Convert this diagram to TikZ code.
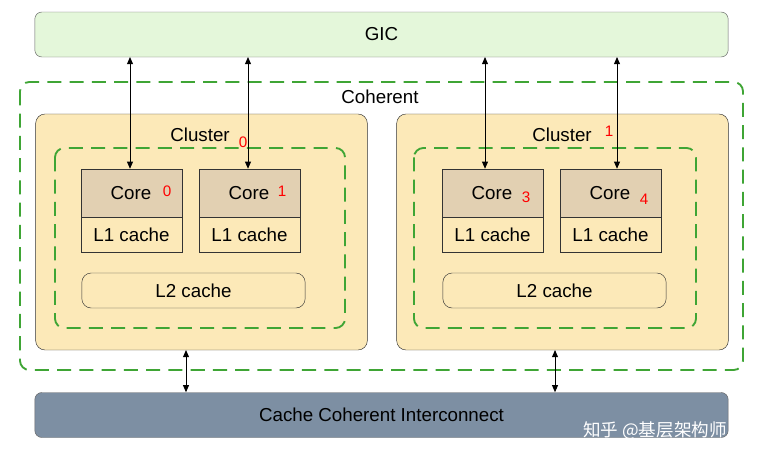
\documentclass[tikz,border=0pt]{standalone}
\usepackage{fontspec}
\setmainfont{Liberation Sans}
\newfontfamily\cjk{Noto Sans CJK SC}
\usetikzlibrary{arrows.meta,positioning}
\definecolor{gicgreen}{HTML}{E4F7DA}
\definecolor{clusterfill}{HTML}{FCE9B8}
\definecolor{corefill}{HTML}{E2D0B2}
\definecolor{dashgreen}{HTML}{3FA535}
\definecolor{busfill}{HTML}{7D8FA3}
\begin{document}
\begin{tikzpicture}[x=0.03cm,y=-0.03cm,font=\fontsize{16}{18}\selectfont]
	\tikzstyle{bar} = [rectangle, rounded corners=6pt, draw=black!60, minimum height=1.35cm, minimum width=20.8cm]
	\tikzstyle{cluster} = [rectangle, rounded corners=8pt, draw=black!80, fill=clusterfill, minimum width=9.95cm, minimum height=7.08cm]
	\tikzstyle{dashbox} = [rectangle, rounded corners=8pt, draw=dashgreen, line width=1.6pt, dash pattern=on 12pt off 7pt]
	\tikzstyle{core} = [rectangle, draw=black!80, fill=corefill, minimum width=3.03cm, minimum height=1.44cm, inner sep=0pt]
	\tikzstyle{lone} = [rectangle, draw=black!80, fill=clusterfill, minimum width=3.03cm, minimum height=1.05cm, inner sep=0pt]
	\tikzstyle{ltwo} = [rectangle, rounded corners=8pt, draw=black!80, fill=clusterfill, minimum width=6.7cm, minimum height=1.05cm]
	\tikzstyle{num} = [text=red, font=\fontsize{13}{15}\selectfont]
	\tikzstyle{arrow} = [thick, {Triangle[length=6pt,width=5pt]}-{Triangle[length=6pt,width=5pt]}]
	\useasboundingbox (0,0) rectangle (766,474);
	% top and bottom bars
	\node (gic) [bar, fill=gicgreen] at (381.5,34.5) {GIC};
	\node (bus) [bar, fill=busfill] at (381.5,415) {Cache Coherent Interconnect};
	% coherent domain
	\draw [dashbox] (20,82) rectangle (743,370);
	\node (coherent) at (380,97) {Coherent};
	% clusters
	\node (cluster0) [cluster] at (201.5,232) {};
	\node (cluster1) [cluster] at (562.5,232) {};
	\node (clabel0) at (200,135) {Cluster};
	\node [num] at (243,142) {0};
	\node (clabel1) at (562,135) {Cluster};
	\node [num] at (609,131) {1};
	\draw [dashbox] (55,148) rectangle (345,328);
	\draw [dashbox] (414,148) rectangle (696,328);
	% cores
	\node (core0) [core] at (131.5,193) {};
	\node (core1) [core] at (249.5,193) {};
	\node (core3) [core] at (492.5,193) {};
	\node (core4) [core] at (610.5,193) {};
	\node at (131,193) {Core};
	\node [num] at (167,191) {0};
	\node at (249,193) {Core};
	\node [num] at (282,191) {1};
	\node at (492,193) {Core};
	\node [num] at (526,197) {3};
	\node at (610,193) {Core};
	\node [num] at (644,199) {4};
	\node (lone0) [lone, below=0pt of core0] {L1 cache};
	\node (lone1) [lone, below=0pt of core1] {L1 cache};
	\node (lone3) [lone, below=0pt of core3] {L1 cache};
	\node (lone4) [lone, below=0pt of core4] {L1 cache};
	\node (ltwo0) [ltwo] at (193.5,290.5) {L2 cache};
	\node (ltwo1) [ltwo] at (554.5,290.5) {L2 cache};
	% connections
	\coordinate (g0) at (130,57);
	\coordinate (g1) at (248,57);
	\coordinate (g3) at (485,57);
	\coordinate (g4) at (617,57);
	\draw [arrow] (g0) -- (g0 |- core0.north);
	\draw [arrow] (g1) -- (g1 |- core1.north);
	\draw [arrow] (g3) -- (g3 |- core3.north);
	\draw [arrow] (g4) -- (g4 |- core4.north);
	\coordinate (b0) at (186,350);
	\coordinate (b1) at (555,350);
	\draw [arrow] (b0) -- (b0 |- bus.north);
	\draw [arrow] (b1) -- (b1 |- bus.north);
	\node (mark) [text=white, font=\cjk\fontsize{15}{17}\selectfont] at (655,431) {知乎 @基层架构师};
\end{tikzpicture}
\end{document}
